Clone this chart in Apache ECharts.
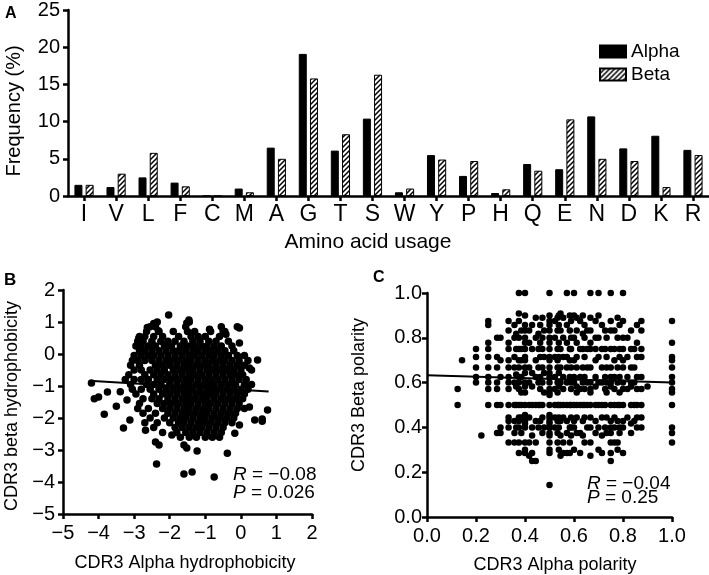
<!DOCTYPE html>
<html><head><meta charset="utf-8">
<script src="https://cdn.jsdelivr.net/npm/echarts@6/dist/echarts.min.js"></script>
<style>html,body{margin:0;padding:0;background:#fff}#c{width:709px;height:575px}</style>
</head><body><div id="c"></div>
<script>
// ---------- Panel A data ----------
const categories = ['I','V','L','F','C','M','A','G','T','S','W','Y','P','H','Q','E','N','D','K','R'];
const alphaFreq = [1.5,1.2,2.5,1.8,0,1.0,6.5,19.1,6.1,10.4,0.5,5.5,2.7,0.4,4.3,3.6,10.7,6.4,8.1,6.2];
const betaFreq  = [1.5,3.0,5.8,1.3,0,0.5,5.0,15.8,8.3,16.3,1.0,4.9,4.7,0.9,3.4,10.3,5.0,4.7,1.2,5.5];
const freqTicks = [0,5,10,15,20,25];

// ---------- Panel B data (alpha hydrophobicity x, beta hydrophobicity y) ----------
const hydroOutliers = [[-4.2,-0.91],[-4.12,-1.4],[-4.0,-1.34],[-3.84,-1.88],[-3.75,-1.19],[-3.5,-1.63],[-3.39,-1.18],
 [-3.3,-2.31],[-3.12,-2.06],[-3.2,-1.44],[-2.68,-2.38],[-2.4,-2.75],[-2.3,-2.84],[-1.94,-2.53],[-1.6,-2.84],[-1.52,-2.94],
 [-1.23,-3.03],[-0.38,-3.1],[-2.37,-3.44],[-1.6,-3.75],[-1.37,-3.69],[-0.75,-3.84],[-0.04,-2.22],[0.6,-2.1],
 [-2.03,1.22],[-1.46,1.06],[-1.52,0.97],[-2.45,0.95],[-2.63,0.83],[-0.04,0.81],[-0.5,0.72],[-0.42,0.62],[-0.88,0.77],
 [-2.87,0.49],[-2.32,0.73],[-0.04,0.34],[0.47,-0.19],[0.24,-0.44],[0.75,-1.75],[0.6,-2.03],[0.24,-1.66],[0.39,-2.06],[-0.17,-2.48]];
const hydroRows = [
 [1.0,[-2.35,-1.45]],
 [0.85,[-2.55,-2.4,-1.55,-0.55,-0.1]],
 [0.7,[-2.65,-2.3,-1.9,-1.5,-1.3,-0.85,-0.45]],
 [0.55,[-2.85,-2.7,-2.45,-2.2,-1.75,-1.4,-1.2,-1.0,-0.6]],
 [0.4,[-2.9,-2.75,-2.5,-2.25,-2.05,-1.85,-1.6,-1.35,-1.15,-0.9,-0.7,-0.35]],
 [0.25,[-2.95,-2.8,-2.6,-2.4,-2.15,-1.95,-1.7,-1.5,-1.3,-1.1,-0.95,-0.75,-0.55,-0.25]],
 [0.1,[-2.85,-2.7,-2.5,-2.3,-2.1,-1.9,-1.75,-1.55,-1.35,-1.2,-1.0,-0.85,-0.65,-0.45,-0.2]],
 [-0.05,[-3.0,-2.8,-2.6,-2.45,-2.25,-2.05,-1.85,-1.65,-1.45,-1.3,-1.1,-0.9,-0.75,-0.55,-0.35,-0.1,0.1]],
 [-0.2,[-3.05,-2.9,-2.7,-2.5,-2.3,-2.1,-1.95,-1.75,-1.55,-1.4,-1.2,-1.0,-0.8,-0.6,-0.45,-0.25,-0.05,0.2]],
 [-0.35,[-3.1,-2.85,-2.4,-2.2,-2.0,-1.8,-1.6,-1.45,-1.25,-1.05,-0.9,-0.7,-0.5,-0.3,-0.1,0.1]],
 [-0.5,[-3.0,-2.8,-2.55,-2.35,-2.15,-1.9,-1.7,-1.5,-1.35,-1.15,-0.95,-0.8,-0.6,-0.4,-0.2,0.0,0.3]],
 [-0.65,[-3.15,-2.7,-2.45,-2.25,-2.05,-1.85,-1.65,-1.45,-1.3,-1.1,-0.9,-0.7,-0.5,-0.3,-0.15,0.05]],
 [-0.8,[-3.25,-3.0,-2.8,-2.6,-2.35,-2.15,-1.95,-1.75,-1.55,-1.4,-1.2,-1.0,-0.85,-0.65,-0.45,-0.25,-0.05,0.15]],
 [-0.95,[-3.1,-2.65,-2.45,-2.25,-2.0,-1.8,-1.6,-1.45,-1.25,-1.05,-0.9,-0.75,-0.55,-0.35,-0.15,0.1,0.3]],
 [-1.1,[-3.05,-2.8,-2.55,-2.3,-2.1,-1.9,-1.7,-1.5,-1.35,-1.15,-0.95,-0.8,-0.6,-0.4,-0.2,0.0,0.2]],
 [-1.25,[-2.95,-2.45,-2.2,-2.0,-1.8,-1.6,-1.45,-1.25,-1.05,-0.85,-0.7,-0.5,-0.3,-0.1,0.1]],
 [-1.4,[-2.75,-2.5,-2.3,-2.05,-1.85,-1.65,-1.5,-1.3,-1.1,-0.95,-0.75,-0.55,-0.35,-0.15,0.05]],
 [-1.55,[-2.85,-2.35,-2.15,-1.95,-1.75,-1.55,-1.4,-1.2,-1.0,-0.85,-0.65,-0.45,-0.25,-0.05]],
 [-1.7,[-2.9,-2.6,-2.2,-2.0,-1.8,-1.6,-1.45,-1.25,-1.05,-0.9,-0.7,-0.5,-0.3,-0.1,0.1]],
 [-1.85,[-2.75,-2.4,-2.05,-1.85,-1.65,-1.5,-1.3,-1.1,-0.95,-0.75,-0.55,-0.35,-0.15]],
 [-2.0,[-2.55,-2.15,-1.9,-1.7,-1.55,-1.35,-1.15,-1.0,-0.8,-0.6,-0.4,-0.2]],
 [-2.15,[-2.7,-2.35,-2.0,-1.75,-1.6,-1.4,-1.2,-1.05,-0.85,-0.65,-0.45,-0.25]],
 [-2.3,[-2.45,-1.85,-1.65,-1.45,-1.25,-1.1,-0.9,-0.7,-0.5]],
 [-2.45,[-2.2,-1.8,-1.55,-1.35,-1.15,-0.95,-0.75,-0.55]],
 [-2.6,[-1.7,-1.45,-1.25,-1.0,-0.8,-0.6]]
];
const hydroFit = [[-4.15,-0.84],[0.78,-1.17]];
const hydroTicks = [-5,-4,-3,-2,-1,0,1,2];

// ---------- Panel C data (alpha polarity x, beta polarity values per column) ----------
const polarityCols = [
 [0.125,[0.571,0.5]],
 [0.143,[0.7]],
 [0.2,[0.75,0.714,0.667,0.625,0.6]],
 [0.222,[0.364]],
 [0.25,[0.875,0.857,0.778,0.75,0.714,0.667,0.625,0.6,0.571,0.5]],
 [0.286,[0.8,0.714,0.667,0.6,0.571,0.5,0.375]],
 [0.3,[0.8,0.7,0.625,0.5,0.4,0.375]],
 [0.333,[0.875,0.833,0.778,0.75,0.7,0.667,0.625,0.6,0.571,0.5,0.444,0.429,0.4,0.333]],
 [0.357,[0.857,0.8,0.714,0.667,0.6,0.5,0.429,0.375,0.333]],
 [0.364,[0.818,0.75,0.636,0.583,0.5,0.4]],
 [0.375,[1.0,0.909,0.875,0.8,0.75,0.7,0.667,0.625,0.6,0.571,0.5,0.444,0.429,0.4,0.333,0.286]],
 [0.385,[0.833,0.75,0.7,0.625,0.556,0.5,0.444,0.375]],
 [0.4,[1.0,0.9,0.857,0.833,0.8,0.778,0.75,0.714,0.7,0.667,0.643,0.6,0.583,0.556,0.5,0.455,0.429,0.417,0.4,0.333,0.3,0.286]],
 [0.417,[0.833,0.778,0.667,0.6,0.5,0.444,0.333,0.273]],
 [0.429,[0.857,0.75,0.643,0.583,0.5,0.4,0.364,0.286,0.25]],
 [0.444,[0.889,0.8,0.7,0.625,0.5,0.429,0.333,0.25]],
 [0.455,[0.818,0.75,0.667,0.6,0.5,0.4]],
 [0.462,[0.857,0.778,0.714,0.625,0.571,0.5,0.429]],
 [0.471,[0.889,0.8,0.75,0.667,0.6,0.5,0.444,0.375]],
 [0.478,[0.833,0.714,0.643,0.556,0.4]],
 [0.5,[1.0,0.9,0.875,0.857,0.833,0.8,0.778,0.75,0.714,0.7,0.667,0.643,0.625,0.6,0.571,0.556,0.545,0.5,0.455,0.444,0.429,0.417,0.4,0.375,0.364,0.333,0.3,0.286,0.143]],
 [0.522,[0.875,0.8,0.714,0.625,0.571,0.5,0.444,0.4]],
 [0.533,[0.889,0.833,0.75,0.7,0.667,0.6,0.556,0.5,0.429,0.375,0.333]],
 [0.538,[0.9,0.857,0.778,0.714,0.643,0.583,0.5,0.444,0.4,0.3]],
 [0.545,[0.909,0.833,0.75,0.667,0.6,0.5,0.429,0.364,0.273]],
 [0.556,[0.889,0.8,0.714,0.625,0.571,0.5,0.444,0.333,0.286]],
 [0.571,[1.0,0.857,0.778,0.714,0.667,0.6,0.5,0.429,0.375,0.286]],
 [0.583,[0.9,0.833,0.75,0.7,0.625,0.5,0.4,0.333,0.286]],
 [0.588,[0.875,0.8,0.75,0.667,0.6,0.571,0.5,0.444,0.4,0.364]],
 [0.6,[1.0,0.9,0.8,0.7,0.625,0.6,0.5,0.429,0.4,0.3]],
 [0.611,[0.889,0.833,0.778,0.714,0.667,0.583,0.556,0.5,0.444,0.375]],
 [0.625,[0.875,0.75,0.625,0.571,0.5,0.375,0.286]],
 [0.636,[0.9,0.818,0.75,0.667,0.6,0.5,0.429,0.364]],
 [0.643,[0.857,0.8,0.714,0.625,0.571,0.5,0.444,0.333]],
 [0.654,[0.833,0.75,0.667,0.6,0.5,0.4]],
 [0.667,[1.0,0.889,0.833,0.778,0.75,0.667,0.6,0.571,0.556,0.5,0.444,0.4,0.333,0.273]],
 [0.688,[0.875,0.8,0.75,0.7,0.625,0.583,0.5,0.429,0.375]],
 [0.7,[1.0,0.9,0.8,0.714,0.6,0.5,0.4,0.3]],
 [0.714,[0.857,0.75,0.667,0.6,0.5,0.444,0.364,0.286]],
 [0.727,[0.833,0.75,0.625,0.571,0.5,0.4]],
 [0.733,[0.8,0.714,0.667,0.6,0.556,0.444,0.375]],
 [0.75,[1.0,0.875,0.833,0.75,0.667,0.625,0.6,0.583,0.5,0.429,0.4,0.375,0.333,0.286,0.25]],
 [0.765,[0.833,0.75,0.7,0.625,0.571,0.5,0.444,0.4,0.333]],
 [0.778,[0.889,0.8,0.667,0.6,0.5,0.429,0.333,0.3]],
 [0.786,[0.857,0.75,0.714,0.625,0.556,0.5,0.4,0.375]],
 [0.8,[1.0,0.875,0.8,0.75,0.7,0.667,0.6,0.571,0.5,0.429,0.4,0.286]],
 [0.818,[0.8,0.714,0.625,0.571,0.444]],
 [0.833,[0.833,0.75,0.667,0.6,0.583,0.5,0.417,0.375]],
 [0.846,[0.75,0.667,0.6,0.5,0.429]],
 [0.857,[0.857,0.778,0.714,0.625,0.571,0.5,0.444,0.4]],
 [0.875,[0.875,0.833,0.75,0.714,0.625,0.571,0.5,0.444,0.4]],
 [0.9,[0.583]],
 [1.0,[0.875,0.778,0.714,0.7,0.667,0.625,0.6,0.571,0.556,0.5,0.4,0.375,0.333]]
];
const polarityFit = [[0.0,0.633],[1.0,0.601]];
const polarityTicks = [0,0.2,0.4,0.6,0.8,1.0];

// ---------- build ----------
const hydroPoints = hydroOutliers.concat(...hydroRows.map(r => r[1].map(x => [x, r[0]])));
const polarityPoints = [].concat(...polarityCols.map(c => c[1].map(y => [c[0], y])));

function hatch(){
  const c = document.createElement('canvas'); c.width = 5; c.height = 5;
  const g = c.getContext('2d');
  g.fillStyle = '#fff'; g.fillRect(0,0,5,5);
  g.strokeStyle = '#000'; g.lineWidth = 1.5;
  g.beginPath();
  g.moveTo(0,5); g.lineTo(5,0);
  g.moveTo(-1,1); g.lineTo(1,-1);
  g.moveTo(4,6); g.lineTo(6,4);
  g.stroke();
  return c;
}

const FONT = 'Liberation Sans, Arial, Helvetica, sans-serif';
const minus = v => String(v).replace('-', '\u2212');
const axisLine = {show:true, onZero:false, lineStyle:{color:'#000', width:2.5}};
const axisTick = {show:true, length:5, lineStyle:{color:'#000', width:2.5}};
const lab = (size, margin, fmt) => ({fontFamily:FONT, fontSize:size, color:'#000', margin:margin, formatter:fmt});

const chart = echarts.init(document.getElementById('c'), null, {renderer:'canvas'});
chart.setOption({
  animation:false,
  backgroundColor:'#fff',
  textStyle:{fontFamily:FONT, color:'#000'},
  grid:[
    {left:68, top:7, width:641, height:189},
    {left:63, top:290, width:249, height:224},
    {left:427, top:293, width:245, height:224}
  ],
  legend:{
    data:['Alpha','Beta'], orient:'vertical', left:599, top:42,
    itemWidth:26, itemHeight:12, itemGap:4, padding:0, icon:'rect',
    textStyle:{fontFamily:FONT, fontSize:19, color:'#000'}
  },
  xAxis:[
    {gridIndex:0, type:'category', data:categories, axisLine, axisTick:{...axisTick, alignWithLabel:true},
     axisLabel:lab(23, 7), splitLine:{show:false}},
    {gridIndex:1, type:'value', min:hydroTicks[0], max:hydroTicks[hydroTicks.length-1], interval:1, axisLine, axisTick,
     axisLabel:lab(20, 9, minus), splitLine:{show:false}},
    {gridIndex:2, type:'value', min:polarityTicks[0], max:polarityTicks[polarityTicks.length-1], interval:0.2, axisLine, axisTick,
     axisLabel:lab(20, 9, v=>v.toFixed(1)), splitLine:{show:false}}
  ],
  yAxis:[
    {gridIndex:0, type:'value', min:freqTicks[0], max:freqTicks[freqTicks.length-1], interval:5, axisLine, axisTick,
     axisLabel:lab(20, 8), splitLine:{show:false}},
    {gridIndex:1, type:'value', min:hydroTicks[0], max:hydroTicks[hydroTicks.length-1], interval:1, axisLine, axisTick,
     axisLabel:lab(20, 8, minus), splitLine:{show:false}},
    {gridIndex:2, type:'value', min:polarityTicks[0], max:polarityTicks[polarityTicks.length-1], interval:0.2, axisLine, axisTick,
     axisLabel:lab(20, 5, v=>v.toFixed(1)), splitLine:{show:false}}
  ],
  series:[
    {name:'Alpha', type:'bar', xAxisIndex:0, yAxisIndex:0, data:alphaFreq, barWidth:8, barGap:'40%',
     itemStyle:{color:'#000', borderColor:'#000', borderWidth:1}},
    {name:'Beta', type:'bar', xAxisIndex:0, yAxisIndex:0, data:betaFreq, barWidth:8, barGap:'40%',
     itemStyle:{color:{image:hatch(), repeat:'repeat'}, borderColor:'#000', borderWidth:1}},
    {name:'hydro', type:'scatter', xAxisIndex:1, yAxisIndex:1, data:hydroPoints, symbolSize:7.5,
     itemStyle:{color:'#000', opacity:1}},
    {name:'hydroFit', type:'line', xAxisIndex:1, yAxisIndex:1, data:hydroFit, symbol:'none',
     lineStyle:{color:'#000', width:2}, z:5},
    {name:'polarity', type:'scatter', xAxisIndex:2, yAxisIndex:2, data:polarityPoints, symbolSize:6.5,
     itemStyle:{color:'#000', opacity:1}},
    {name:'polarityFit', type:'line', xAxisIndex:2, yAxisIndex:2, data:polarityFit, symbol:'none',
     lineStyle:{color:'#000', width:2}, z:5}
  ],
  graphic:[
    {type:'text', x:5, y:6, style:{text:'A', font:'bold 16px '+FONT, fill:'#000'}},
    {type:'text', x:4, y:272, style:{text:'B', font:'bold 17px '+FONT, fill:'#000'}},
    {type:'text', x:373, y:270, style:{text:'C', font:'bold 16px '+FONT, fill:'#000'}},
    {type:'text', x:14, y:111, rotation:Math.PI/2, style:{text:'Frequency (%)', font:'20px '+FONT, fill:'#000', align:'center', verticalAlign:'middle'}},
    {type:'text', x:368, y:242, style:{text:'Amino acid usage', font:'21px '+FONT, fill:'#000', align:'center', verticalAlign:'middle'}},
    {type:'text', x:12, y:406, rotation:Math.PI/2, style:{text:'CDR3 beta hydrophobicity', font:'18px '+FONT, fill:'#000', align:'center', verticalAlign:'middle'}},
    {type:'text', x:185, y:563, style:{text:'CDR3 Alpha hydrophobicity', font:'18px '+FONT, fill:'#000', align:'center', verticalAlign:'middle'}},
    {type:'text', x:359, y:395, rotation:Math.PI/2, style:{text:'CDR3 Beta polarity', font:'18px '+FONT, fill:'#000', align:'center', verticalAlign:'middle'}},
    {type:'text', x:555, y:565, style:{text:'CDR3 Alpha polarity', font:'18px '+FONT, fill:'#000', align:'center', verticalAlign:'middle'}},
    {type:'text', x:233, y:475, style:{text:'{i|R} = \u22120.08', font:'19px '+FONT, fill:'#000', verticalAlign:'middle', rich:{i:{fontStyle:'italic', fontSize:19, fontFamily:FONT}}}},
    {type:'text', x:233, y:493, style:{text:'{i|P} = 0.026', font:'19px '+FONT, fill:'#000', verticalAlign:'middle', rich:{i:{fontStyle:'italic', fontSize:19, fontFamily:FONT}}}},
    {type:'text', x:587, y:484, style:{text:'{i|R} = \u22120.04', font:'19px '+FONT, fill:'#000', verticalAlign:'middle', rich:{i:{fontStyle:'italic', fontSize:19, fontFamily:FONT}}}},
    {type:'text', x:587, y:498, style:{text:'{i|P} = 0.25', font:'19px '+FONT, fill:'#000', verticalAlign:'middle', rich:{i:{fontStyle:'italic', fontSize:19, fontFamily:FONT}}}}
  ]
});
</script></body></html>
